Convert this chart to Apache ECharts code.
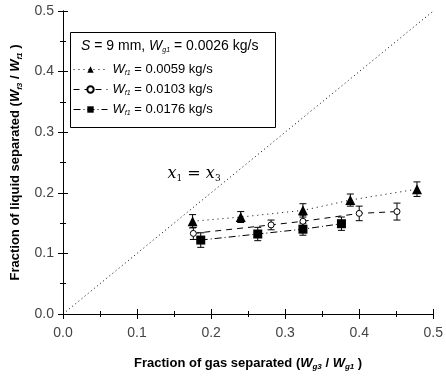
<!DOCTYPE html>
<html>
<head>
<meta charset="utf-8">
<script src="https://cdn.jsdelivr.net/npm/echarts@6/dist/echarts.min.js"></script>
<style>
  html, body { margin: 0; padding: 0; background: #fff; }
  #chart { width: 446px; height: 376px; }
</style>
</head>
<body>
<div id="chart"></div>
<script>
// data: [x, y]
var tri = [[0.175, 0.153], [0.240, 0.160], [0.324, 0.171], [0.388, 0.188], [0.478, 0.206]];
var triErr = [0.011, 0.009, 0.011, 0.010, 0.012];
var circ = [[0.176, 0.133], [0.281, 0.147], [0.324, 0.153], [0.400, 0.166], [0.451, 0.169]];
var circErr = [0.010, 0.008, 0.010, 0.012, 0.014];
var sq = [[0.186, 0.122], [0.263, 0.132], [0.324, 0.140], [0.376, 0.149]];
var sqErr = [0.012, 0.011, 0.010, 0.011];
var diag = [[0, 0], [0.5, 0.5]];
var xTicks = [0.0, 0.1, 0.2, 0.3, 0.4, 0.5];
var yTicks = [0.0, 0.1, 0.2, 0.3, 0.4, 0.5];

var names = ['tri', 'circ', 'sq'];
var flows = { tri: '0.0059', circ: '0.0103', sq: '0.0176' };

var chart = echarts.init(document.getElementById('chart'));

// error bars drawn with a custom series
function errSeries(pts, errs) {
  var d = pts.map(function (p, i) { return [p[0], p[1] - errs[i], p[1] + errs[i]]; });
  return {
    type: 'custom',
    data: d,
    z: 3,
    renderItem: function (params, api) {
      var lo = api.coord([api.value(0), api.value(1)]);
      var hi = api.coord([api.value(0), api.value(2)]);
      var w = 3.5;
      var st = { stroke: '#000', lineWidth: 1 };
      return {
        type: 'group',
        children: [
          { type: 'line', shape: { x1: lo[0], y1: lo[1], x2: hi[0], y2: hi[1] }, style: st },
          { type: 'line', shape: { x1: lo[0] - w, y1: lo[1], x2: lo[0] + w, y2: lo[1] }, style: st },
          { type: 'line', shape: { x1: hi[0] - w, y1: hi[1], x2: hi[0] + w, y2: hi[1] }, style: st }
        ]
      };
    }
  };
}

var axisCommon = {
  type: 'value',
  min: 0, max: 0.5, interval: 0.1,
  axisLine: { show: true, lineStyle: { color: '#000', width: 1 } },
  axisTick: { show: true, inside: true, length: 5, lineStyle: { color: '#000' } },
  minorTick: { show: true, splitNumber: 2, length: 3, lineStyle: { color: '#000' } },
  splitLine: { show: false }
};

var richName = {
  b: { fontWeight: 'bold', fontSize: 13, color: '#000' },
  bi: { fontWeight: 'bold', fontStyle: 'italic', fontSize: 13, color: '#000' },
  sub: { fontWeight: 'bold', fontStyle: 'italic', fontSize: 8, color: '#000', padding: [8, 0, 0, 0] }
};

var option = {
  animation: false,
  textStyle: { fontFamily: 'Liberation Sans, Arial, sans-serif' },
  grid: { left: 63, right: 9, top: 11, bottom: 61 },
  xAxis: [
    Object.assign({}, axisCommon, {
      position: 'bottom',
      axisLabel: { color: '#444', fontSize: 14, margin: 12, formatter: function (v) { return v.toFixed(1); } },
      name: '{b|Fraction of gas separated (}{bi|W}{sub|g3}{b| / }{bi|W}{sub|g1}{b| )}',
      nameLocation: 'middle',
      nameGap: 41,
      nameTextStyle: { rich: richName }
    }),
    Object.assign({}, axisCommon, { position: 'top', axisLabel: { show: false } })
  ],
  yAxis: [
    Object.assign({}, axisCommon, {
      position: 'left',
      axisLabel: { color: '#444', fontSize: 14, margin: 9, formatter: function (v) { return v.toFixed(1); } },
      name: '{b|Fraction of liquid separated (}{bi|W}{sub|f3}{b| / }{bi|W}{sub|f1}{b| )}',
      nameLocation: 'middle',
      nameGap: 38,
      nameTextStyle: { rich: richName }
    }),
    Object.assign({}, axisCommon, { position: 'right', axisLabel: { show: false } })
  ],
  legend: {
    orient: 'vertical',
    left: 68,
    top: 58,
    itemWidth: 34,
    itemHeight: 8,
    itemGap: 6,
    data: names,
    lineStyle: { width: 1 },
    formatter: function (n) {
      return '{i|W}{s|f1}{t| = ' + flows[n] + ' kg/s}';
    },
    textStyle: {
      rich: {
        i: { fontStyle: 'italic', fontSize: 13, color: '#000' },
        s: { fontStyle: 'italic', fontSize: 7, color: '#000', padding: [8, 0, 0, 0] },
        t: { fontSize: 13, color: '#000' }
      }
    }
  },
  graphic: [
    {
      type: 'rect', left: 68, top: 30,
      shape: { width: 205, height: 95 },
      style: { fill: 'none', stroke: '#000', lineWidth: 1 }, z: 10
    },
    {
      type: 'text', left: 81, top: 39, z: 10,
      style: {
        text: '{i|S}{t| = 9 mm, }{i|W}{s|g1}{t| = 0.0026 kg/s}',
        rich: {
          i: { fontStyle: 'italic', fontSize: 14, fill: '#000' },
          s: { fontStyle: 'italic', fontSize: 7, fill: '#000', padding: [8, 0, 0, 0] },
          t: { fontSize: 14, fill: '#000' }
        }
      }
    }
  ],
  series: [
    {
      type: 'line', data: diag, symbol: 'none', silent: true,
      lineStyle: { color: '#000', width: 1, type: [1, 3] },
      markPoint: {
        symbol: 'rect', symbolSize: 1, itemStyle: { color: 'transparent' },
        data: [{
          coord: [0.177, 0.232],
          label: {
            show: true,
            formatter: '{x|x}{s|1}{x| = }{x|x}{s|3}',
            rich: {
              x: { fontFamily: 'DejaVu Serif, serif', fontStyle: 'italic', fontSize: 16, color: '#000' },
              s: { fontFamily: 'DejaVu Serif, serif', fontSize: 9, color: '#000', padding: [11, 0, 0, 0] }
            }
          }
        }]
      }
    },
    {
      name: 'tri', type: 'line', data: tri, symbol: 'triangle', symbolSize: 10, z: 5,
      itemStyle: { color: '#000' },
      lineStyle: { color: '#000', width: 1, type: [1, 4] }
    },
    {
      name: 'circ', type: 'line', data: circ, symbol: 'circle', symbolSize: 6, z: 5,
      itemStyle: { color: '#fff', borderColor: '#000', borderWidth: 1 },
      lineStyle: { color: '#000', width: 1, type: [6, 5] }
    },
    {
      name: 'sq', type: 'line', data: sq, symbol: 'rect', symbolSize: 9, z: 5,
      itemStyle: { color: '#000' },
      lineStyle: { color: '#000', width: 1, type: [7, 3, 1, 3] }
    },
    errSeries(tri, triErr),
    errSeries(circ, circErr),
    errSeries(sq, sqErr)
  ]
};

chart.setOption(option);
</script>
</body>
</html>
